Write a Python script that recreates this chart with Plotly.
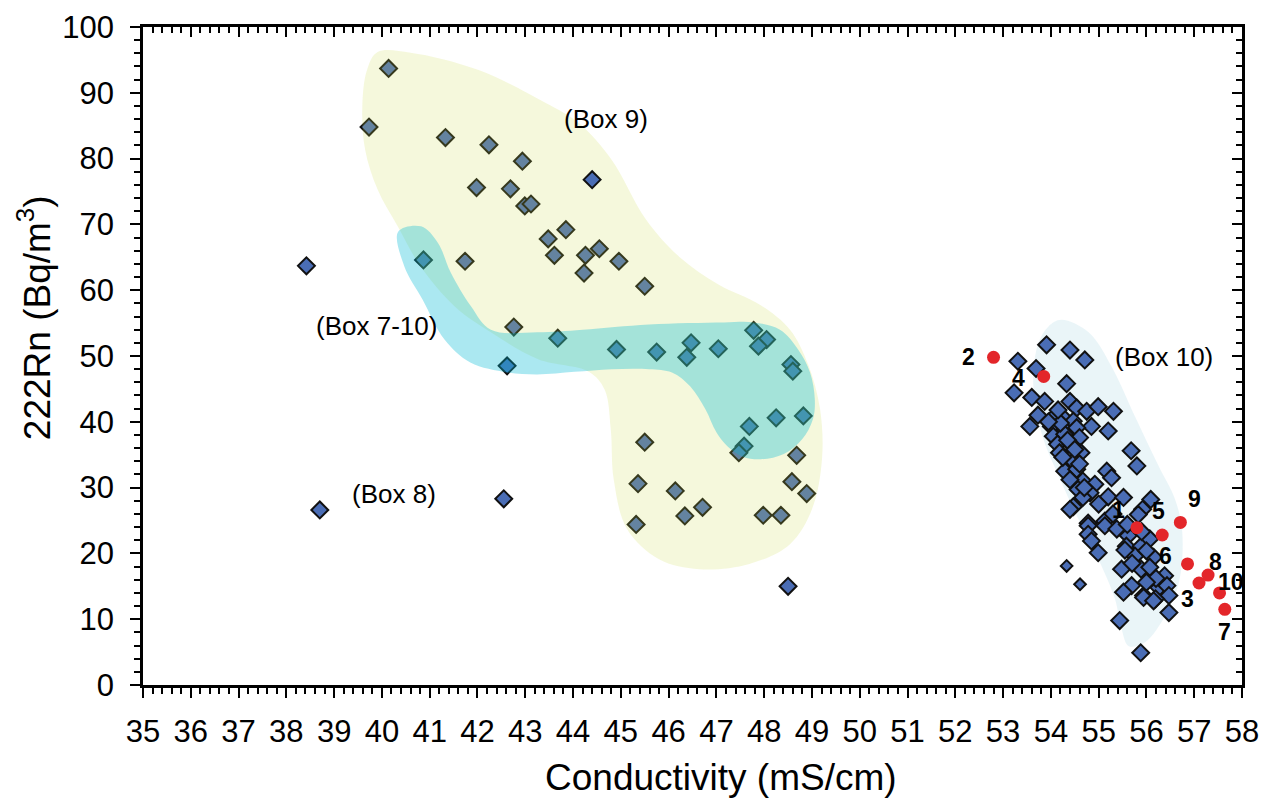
import plotly.graph_objects as go

# samples inside the Box 9 / Box 7-10 / Box 8 area
left_x = [40.14, 39.73, 41.33, 42.24, 42.94, 41.98, 42.69, 42.99, 43.12, 43.85,
          43.48, 44.55, 43.61, 44.26, 44.96, 44.23, 45.50, 41.74, 40.87, 38.42,
          42.76, 43.68, 42.62, 44.91, 45.75, 46.47, 46.38, 47.04, 47.78, 48.05,
          47.88, 48.56, 48.60, 48.82, 48.25, 47.69, 47.58, 47.47, 45.50, 48.68,
          45.36, 46.14, 48.58, 48.89, 46.71, 46.34, 47.98, 48.35, 45.32, 48.50,
          38.70, 42.55]
left_y = [93.7, 84.8, 83.2, 82.1, 79.6, 75.6, 75.4, 72.8, 73.1, 69.2,
          67.8, 66.3, 65.3, 65.3, 64.4, 62.6, 60.6, 64.4, 64.6, 63.7,
          54.4, 52.7, 48.5, 51.0, 50.6, 52.0, 49.8, 51.1, 53.9, 52.5,
          51.5, 48.7, 47.7, 40.9, 40.6, 39.3, 36.3, 35.3, 36.9, 34.9,
          30.6, 29.5, 30.9, 29.1, 27.0, 25.7, 25.8, 25.8, 24.4, 15.0,
          26.6, 28.3]
top_x = [44.40]
top_y = [76.8]

# Box 10 cluster
right_x = [53.91, 54.40, 54.71, 53.31, 53.69, 54.33, 53.23, 53.60, 53.87, 54.40,
           54.54, 54.75, 54.99, 55.31, 53.73, 53.56, 54.05, 54.29, 54.47, 54.85,
           55.20, 54.01, 54.29, 54.54, 54.05, 54.29, 54.60, 54.14, 54.42, 55.68,
           54.18, 54.63, 54.47, 55.80, 54.29, 54.54, 55.17, 55.27, 54.67, 54.92,
           54.57, 54.82, 55.20, 55.52, 54.67, 54.47, 54.40, 54.78, 55.13, 55.92,
           56.09, 54.78, 55.13, 55.38, 54.78, 54.85, 55.83, 54.99, 55.62, 55.58,
           55.89, 56.07, 55.76, 56.15, 55.48, 55.89, 56.07, 56.38, 55.69, 55.52,
           55.94, 56.26, 56.43, 56.47, 56.19, 55.94, 56.15, 56.47, 55.44, 55.88,
           54.20, 54.35, 54.50, 54.25, 54.60, 54.40, 54.70, 55.00, 55.30, 55.60,
           55.90, 56.00, 55.70, 56.20, 56.00, 55.55, 54.15, 53.95]
right_y = [51.7, 50.9, 49.4, 49.2, 48.1, 45.8, 44.4, 43.7, 43.1, 43.1,
           42.1, 41.6, 42.3, 41.6, 41.0, 39.3, 40.6, 40.4, 40.1, 39.3,
           38.6, 39.3, 38.8, 39.1, 37.8, 38.1, 37.6, 36.6, 36.6, 35.6,
           35.3, 35.3, 34.0, 33.3, 32.5, 32.8, 32.5, 31.5, 31.0, 30.5,
           29.7, 29.2, 28.6, 28.5, 28.5, 27.1, 26.7, 24.6, 24.9, 26.7,
           28.2, 24.2, 24.2, 23.7, 22.9, 21.9, 25.9, 20.1, 22.7, 21.1,
           21.1, 22.2, 19.6, 19.4, 17.6, 17.6, 17.9, 16.6, 15.1, 14.1,
           13.6, 14.8, 15.1, 13.6, 13.1, 13.3, 12.8, 11.0, 9.8, 4.9,
           39.8, 37.2, 35.8, 34.6, 33.6, 31.2, 30.0, 27.5, 26.0, 24.4,
           23.3, 20.4, 18.5, 16.2, 15.6, 20.5, 41.8, 40.0]
small_x = [54.33, 54.61]
small_y = [18.1, 15.3]

# numbered red samples
red_labels = ["1", "2", "3", "4", "5", "6", "7", "8", "9", "10"]
red_x = [55.80, 52.80, 57.10, 53.85, 56.33, 56.86, 57.64, 57.29, 56.71, 57.53]
red_y = [23.9, 49.8, 15.5, 46.9, 22.8, 18.4, 11.5, 16.7, 24.7, 14.0]
lab_x = [55.42, 52.28, 56.85, 53.32, 56.26, 56.39, 57.63, 57.44, 57.00, 57.76]
lab_y = [26.6, 49.8, 13.1, 46.6, 26.4, 19.6, 8.0, 18.7, 28.2, 15.6]

# group outlines
box9_x = [39.91, 40.60, 42.01, 43.42, 44.12, 44.81, 45.53, 46.22, 47.06, 47.91,
          48.54, 48.92, 49.17, 49.21, 49.00, 48.54, 47.69, 46.64, 45.80, 45.13,
          44.85, 44.79, 44.66, 44.33, 43.27, 42.28, 41.53, 40.81, 40.33, 39.91,
          39.65, 39.59, 39.69, 39.91]
box9_y = [96.2, 96.1, 93.5, 88.5, 85.4, 79.8, 70.7, 65.1, 60.8, 57.8,
          54.0, 48.7, 41.9, 34.3, 26.7, 21.4, 18.4, 17.6, 19.1, 23.7,
          31.3, 38.8, 44.9, 47.6, 49.5, 53.6, 57.5, 63.6, 69.7, 75.3,
          81.3, 87.9, 93.5, 96.2]
box710_x = [40.34, 40.82, 41.17, 41.44, 41.86, 42.28, 43.25, 44.20, 45.59, 47.15,
            47.78, 48.33, 48.71, 48.96, 49.06, 49.02, 48.79, 48.41, 47.93, 47.55,
            47.23, 47.00, 46.77, 46.45, 46.07, 45.59, 44.81, 44.03, 43.25, 42.63,
            41.85, 41.31, 40.85, 40.47, 40.34]
box710_y = [68.9, 69.7, 67.2, 62.7, 57.6, 54.0, 53.6, 54.0, 54.8, 55.1,
            55.1, 54.0, 51.0, 47.5, 43.4, 40.4, 37.3, 35.1, 34.3, 34.7,
            36.3, 38.4, 41.9, 45.4, 47.5, 48.0, 48.0, 47.6, 47.2, 47.5,
            49.0, 52.5, 58.6, 63.6, 68.9]
box10_x = [54.22, 54.79, 55.27, 55.76, 56.26, 56.60, 56.75, 56.68, 56.39, 55.97,
           55.63, 55.48, 55.34, 55.06, 54.71, 54.22, 53.80, 53.63, 53.74, 53.95, 54.22]
box10_y = [55.5, 53.6, 48.4, 40.8, 33.2, 28.2, 23.2, 15.6, 10.5, 6.5,
           5.9, 8.5, 13.1, 18.1, 23.2, 30.8, 38.4, 46.0, 52.0, 54.5, 55.5]

box_text = ["(Box 9)", "(Box 7-10)", "(Box 8)", "(Box 10)"]
box_text_x = [44.70, 39.88, 40.26, 56.37]
box_text_y = [86.0, 54.5, 29.1, 49.9]

FONT = "Liberation Sans"
BLUE = "#4a6db5"

fig = go.Figure()

fig.add_trace(go.Scatter(x=box10_x, y=box10_y, mode="lines", fill="toself",
                         line=dict(width=0, shape="spline", smoothing=1.0),
                         fillcolor="rgba(160,210,225,0.22)", hoverinfo="skip"))

diamond = dict(symbol="diamond", size=13, color=BLUE, line=dict(color="#111111", width=2))
fig.add_trace(go.Scatter(x=left_x, y=left_y, mode="markers", marker=diamond))
fig.add_trace(go.Scatter(x=right_x, y=right_y, mode="markers", marker=diamond))
fig.add_trace(go.Scatter(x=small_x, y=small_y, mode="markers",
                         marker=dict(symbol="diamond", size=9, color=BLUE,
                                     line=dict(color="#111111", width=2))))

# translucent groups drawn over the markers
fig.add_trace(go.Scatter(x=box9_x, y=box9_y, mode="lines", fill="toself",
                         line=dict(width=0, shape="spline", smoothing=1.0),
                         fillcolor="rgba(205,222,80,0.2)", hoverinfo="skip"))
fig.add_trace(go.Scatter(x=box710_x, y=box710_y, mode="lines", fill="toself",
                         line=dict(width=0, shape="spline", smoothing=1.0),
                         fillcolor="rgba(0,185,212,0.33)", hoverinfo="skip"))

fig.add_trace(go.Scatter(x=top_x, y=top_y, mode="markers", marker=diamond))
fig.add_trace(go.Scatter(x=red_x, y=red_y, mode="markers",
                         marker=dict(symbol="circle", size=13, color="#e3262a")))

for t, x, y in zip(box_text, box_text_x, box_text_y):
    fig.add_annotation(x=x, y=y, text=t, showarrow=False,
                       font=dict(family=FONT, size=26, color="black"))
for t, x, y in zip(red_labels, lab_x, lab_y):
    fig.add_annotation(x=x, y=y, text="<b>" + t + "</b>", showarrow=False,
                       font=dict(family=FONT, size=23, color="black"))

# axis titles
fig.add_annotation(xref="paper", yref="paper", x=0.526, y=-0.141,
                   text="Conductivity (mS/cm)", showarrow=False,
                   xanchor="center", yanchor="middle",
                   font=dict(family=FONT, size=37, color="black"))
fig.add_annotation(xref="paper", yref="paper", x=-0.098, y=0.558,
                   text="222Rn (Bq/m<sup>3</sup>)", showarrow=False, textangle=-90,
                   xanchor="center", yanchor="middle",
                   font=dict(family=FONT, size=37, color="black"))

# invisible trace so the mirrored axes get drawn
fig.add_trace(go.Scatter(x=[35], y=[0], xaxis="x2", yaxis="y2", mode="markers",
                         marker=dict(opacity=0), hoverinfo="skip"))

axis_common = dict(showgrid=False, zeroline=False, showline=True, linecolor="black",
                   linewidth=2.5, tickcolor="black", tickwidth=2, ticklen=10,
                   automargin=False)

# the page body adds 8px, so the margins are trimmed by that much
fig.update_layout(
    width=1274, height=802,
    margin=dict(l=135, r=40, t=19, b=125),
    paper_bgcolor="white", plot_bgcolor="white",
    showlegend=False,
    font=dict(family=FONT, color="black"),
    xaxis=dict(range=[35, 58], tick0=35, dtick=1, ticks="outside",
               minor=dict(dtick=0.2, ticklen=6, tickwidth=1.5, ticks="outside", tickcolor="black"),
               tickfont=dict(size=31), ticklabelstandoff=7,
               **axis_common),
    yaxis=dict(range=[0, 100], tick0=0, dtick=10, ticks="outside",
               minor=dict(dtick=2, ticklen=6, tickwidth=1.5, ticks="outside", tickcolor="black"),
               tickfont=dict(size=31), ticklabelstandoff=10,
               **axis_common),
    xaxis2=dict(range=[35, 58], overlaying="x", side="top", anchor="y", tick0=35, dtick=1,
                ticks="inside", showticklabels=False,
                minor=dict(dtick=0.2, ticklen=6, tickwidth=1.5, ticks="inside", tickcolor="black"),
                **axis_common),
    yaxis2=dict(range=[0, 100], overlaying="y", side="right", anchor="x", tick0=0, dtick=10,
                ticks="inside", showticklabels=False,
                minor=dict(dtick=2, ticklen=6, tickwidth=1.5, ticks="inside", tickcolor="black"),
                **axis_common),
)

fig.write_html("out.html")
